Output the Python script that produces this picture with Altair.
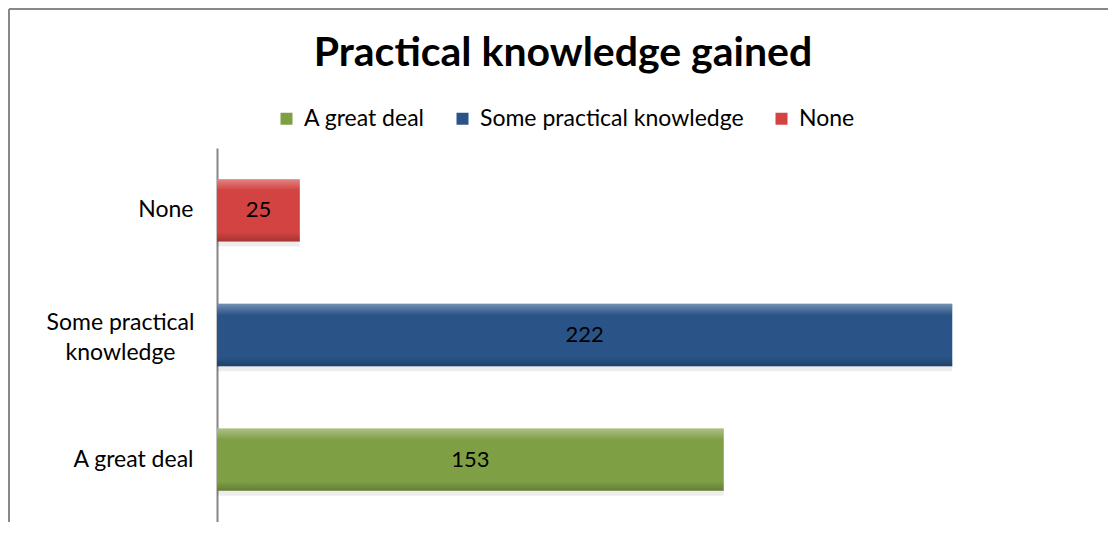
import altair as alt
import pandas as pd

categories = ["None", "Some practical knowledge", "A great deal"]
values = [25, 222, 153]
legend_order = ["A great deal", "Some practical knowledge", "None"]
colors = ["#7F9F45", "#2A5488", "#D24341"]

df = pd.DataFrame({"cat": categories, "value": values})

FONT = "Lato"
W, H = 828, 374
WRAP = "datum.value == 'Some practical knowledge'"

x = alt.X("value:Q", scale=alt.Scale(domain=[0, 250], nice=False), axis=None)
y = alt.Y(
    "cat:N",
    sort=categories,
    scale=alt.Scale(paddingInner=0.5, paddingOuter=0.25),
    axis=alt.Axis(
        title=None,
        ticks=False,
        grid=False,
        domainColor="#868686",
        domainWidth=2,
        labelFont=FONT,
        labelFontSize=23,
        labelColor="#000000",
        labelLineHeight=30,
        labelLimit=0,
        labelExpr=WRAP + " ? ['Some practical', 'knowledge'] : datum.value",
        labelAlign={"condition": {"test": WRAP, "value": "center"}, "value": "right"},
        labelPadding={"condition": {"test": WRAP, "value": 97}, "value": 24},
        labelOffset={"condition": {"test": WRAP, "value": -12}, "value": 0},
    ),
)

shadow = alt.Chart(df).mark_bar(color="#000000", opacity=0.07).encode(
    x=x, y=y, yOffset=alt.value(5)
)

bars = alt.Chart(df).mark_bar().encode(
    x=x,
    y=y,
    color=alt.Color(
        "cat:N",
        sort=legend_order,
        scale=alt.Scale(domain=legend_order, range=colors),
        legend=alt.Legend(
            title=None,
            orient="none",
            direction="horizontal",
            legendX=58,
            legendY=-41,
            symbolType="square",
            symbolSize=144,
            symbolStrokeWidth=0,
            labelFont=FONT,
            labelFontSize=23,
            labelColor="#000000",
            labelOffset=6,
            labelLimit=0,
            columnPadding=26,
        ),
    ),
)

shine = alt.Chart(df).mark_bar(
    fill=alt.Gradient(
        gradient="linear",
        x1=0, y1=0, x2=0, y2=1,
        stops=[
            alt.GradientStop(color="rgba(255,255,255,0.35)", offset=0),
            alt.GradientStop(color="rgba(255,255,255,0.0)", offset=0.18),
            alt.GradientStop(color="rgba(0,0,0,0.0)", offset=0.85),
            alt.GradientStop(color="rgba(0,0,0,0.22)", offset=1),
        ],
    )
).encode(x=x, y=alt.Y("cat:N", sort=categories))

labels = alt.Chart(df).transform_calculate(mid="datum.value / 2").mark_text(
    font=FONT, fontSize=22, color="#000000", align="center", baseline="middle"
).encode(x=alt.X("mid:Q"), y=alt.Y("cat:N", sort=categories), text="value:Q")

frame_left = alt.Chart(df).mark_rule(color="#888888", strokeWidth=2).encode(
    x=alt.value(-208), y=alt.value(-139), y2=alt.value(H + 40)
)
frame_top = alt.Chart(df).mark_rule(color="#888888", strokeWidth=2).encode(
    x=alt.value(-208), x2=alt.value(W + 100), y=alt.value(-139)
)

chart = alt.layer(shadow, bars, shine, labels, frame_left, frame_top).properties(
    width=W,
    height=H,
    autosize=alt.AutoSizeParams(type="none"),
    padding={"left": 209, "top": 140, "right": 63, "bottom": 0},
    title=alt.Title(
        "Practical knowledge gained",
        font=FONT,
        fontSize=41,
        fontWeight="bold",
        color="#000000",
        anchor="middle",
        baseline="bottom",
        dx=-68,
        dy=108,
        offset=0,
    ),
).configure_view(stroke=None)

chart.save("out.html", embed_options={"renderer": "svg", "actions": False})
